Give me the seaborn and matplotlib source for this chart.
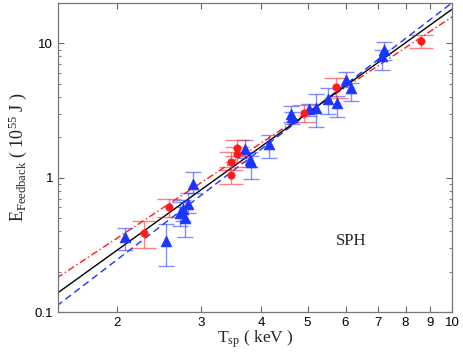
import numpy as np
import pandas as pd
import matplotlib
matplotlib.use("Agg")
import matplotlib.pyplot as plt
import matplotlib.ticker as mticker
import seaborn as sns

# ── data ─────────────────────────────────────────────────────────────────────
# blue triangles
t_blue = [2.08, 2.53, 2.71, 2.75, 2.78, 2.82, 2.88, 3.70, 3.80, 3.82, 4.16,
          4.62, 4.65, 5.03, 5.20, 5.52, 5.77, 6.00, 6.15, 7.15, 7.23]
e_blue = [0.36, 0.34, 0.55, 0.58, 0.50, 0.64, 0.90, 1.64, 1.36, 1.30, 1.78,
          2.99, 2.82, 3.26, 3.31, 3.85, 3.61, 5.38, 4.67, 8.03, 8.91]
hi_blue = [0.42, 0.45, 0.66, 0.68, 0.60, 0.77, 1.11, 1.90, 1.55, 1.45, 2.07,
           3.40, 3.10, 3.55, 4.20, 4.67, 4.05, 6.10, 5.10, 9.00, 10.2]
lo_blue = [0.29, 0.22, 0.44, 0.48, 0.36, 0.55, 0.77, 1.40, 1.20, 0.98, 1.40,
           2.60, 2.50, 2.90, 2.40, 3.00, 2.85, 4.70, 3.70, 6.30, 7.50]

# red circles
t_red = [2.28, 2.57, 3.47, 3.47, 3.57, 3.57, 4.91, 5.72, 8.61]
e_red = [0.39, 0.60, 1.05, 1.32, 1.49, 1.67, 3.04, 4.70, 10.4]
hi_red = [0.48, 0.70, 1.20, 1.55, 1.70, 1.90, 3.45, 5.50, 11.6]
lo_red = [0.30, 0.51, 0.90, 1.15, 1.30, 1.45, 2.60, 3.90, 9.20]

# power-law fits: log10(E) = a + b*log10(T)
fit_all = (-1.316, 2.57)
fit_blue = (-1.438, 2.74)
fit_red = (-1.163, 2.36)

x_ticks = [2, 3, 4, 5, 6, 7, 8, 9, 10]
y_ticks = [0.1, 1, 10]

BLUE = "#1a35ff"
RED = "#ff1a1a"

# ── style ────────────────────────────────────────────────────────────────────
sns.set_style("ticks")
plt.rcParams["font.family"] = ["Liberation Sans", "DejaVu Sans"]
plt.rcParams["mathtext.fontset"] = "custom"
plt.rcParams["mathtext.rm"] = "Liberation Serif"
plt.rcParams["mathtext.it"] = "Liberation Serif:italic"

fig = plt.figure(figsize=(4.63, 3.52), dpi=100)
ax = fig.add_axes([0.1253, 0.1136, 0.851, 0.878])

df_blue = pd.DataFrame({"T": t_blue, "E": e_blue, "hi": hi_blue, "lo": lo_blue})
df_red = pd.DataFrame({"T": t_red, "E": e_red, "hi": hi_red, "lo": lo_red})

# fit lines
xg = np.array([1.5, 10.5])
for (a, b), col, ls in [(fit_blue, BLUE, (0, (5, 3))),
                        (fit_red, RED, (0, (5, 2, 1, 2))),
                        (fit_all, "black", "-")]:
    d = pd.DataFrame({"T": xg, "E": 10 ** (a + b * np.log10(xg))})
    sns.lineplot(data=d, x="T", y="E", ax=ax, color=col, lw=1.0,
                 linestyle=ls, zorder=2)

# error bars
ax.errorbar(df_blue["T"], df_blue["E"],
            yerr=[df_blue["E"] - df_blue["lo"], df_blue["hi"] - df_blue["E"]],
            fmt="none", ecolor=BLUE, alpha=0.55, elinewidth=1.0, capsize=6,
            zorder=3)
ax.errorbar(df_red["T"], df_red["E"],
            yerr=[df_red["E"] - df_red["lo"], df_red["hi"] - df_red["E"]],
            fmt="none", ecolor=RED, alpha=0.55, elinewidth=1.0, capsize=8.5,
            zorder=3)

sns.scatterplot(data=df_blue, x="T", y="E", ax=ax, marker="^", s=60,
                color=BLUE, edgecolor=BLUE, linewidth=0.5, zorder=4)
sns.scatterplot(data=df_red, x="T", y="E", ax=ax, marker="o", s=28,
                color=RED, edgecolor=RED, linewidth=0.5, zorder=4)

ax.set_xscale("log")
ax.set_yscale("log")
ax.set_xlim(1.51, 10)
ax.set_ylim(0.1, 20)

ax.xaxis.set_major_locator(mticker.FixedLocator(x_ticks))
ax.xaxis.set_major_formatter(mticker.FixedFormatter([str(v) for v in x_ticks]))
ax.xaxis.set_minor_locator(mticker.NullLocator())
ax.yaxis.set_major_locator(mticker.FixedLocator(y_ticks))
ax.yaxis.set_major_formatter(mticker.FixedFormatter(["0.1", "1", "10"]))
ax.yaxis.set_minor_locator(mticker.LogLocator(base=10, subs=np.arange(2, 10)))
ax.yaxis.set_minor_formatter(mticker.NullFormatter())

ax.tick_params(which="both", direction="in", top=True, right=True,
               colors="#666666", labelcolor="black", labelsize=9.5)
ax.tick_params(which="major", length=4, width=0.8)
ax.tick_params(which="minor", length=2.5, width=0.6)
for s in ax.spines.values():
    s.set_visible(True)
    s.set_color("#777777")
    s.set_linewidth(0.9)

ax.set_xlabel(r"$\mathrm{T_{sp}}$ ( keV )", family="Liberation Serif",
              fontsize=12.5, labelpad=0)
ax.set_ylabel(r"$\mathrm{E_{Feedback}}$ ( $\mathrm{10^{55}}$ J )",
              family="Liberation Serif", fontsize=13, labelpad=4)
ax.text(6.17, 0.34, "SPH", family="Liberation Serif", fontsize=12,
        ha="center", va="center")

fig.savefig("out.png", dpi=100)
